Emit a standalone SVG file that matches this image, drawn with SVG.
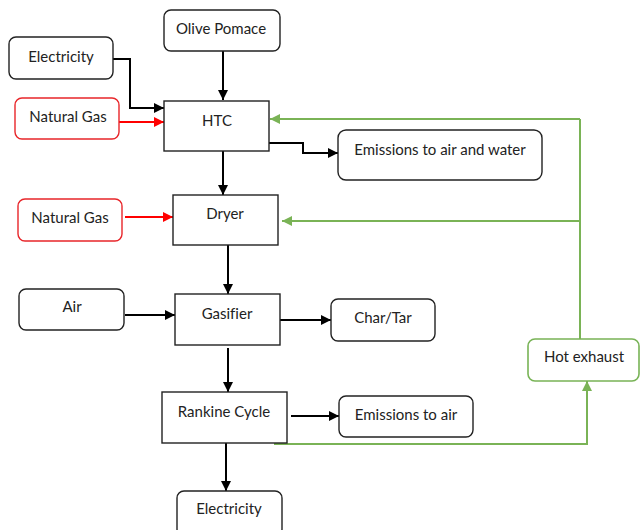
<svg xmlns="http://www.w3.org/2000/svg" width="640" height="530" viewBox="0 0 640 530">
<defs>
<style>
text{font-family:Lato,"Open Sans","Liberation Sans",sans-serif;font-size:15px;fill:#222;text-anchor:middle;font-variant-ligatures:none}
.rb{fill:#fff;stroke:#222;stroke-width:1.4}
.rr{fill:#fff;stroke:#e8262a;stroke-width:1.4}
.rg{fill:#fff;stroke:#78b356;stroke-width:1.6}
.bx{fill:#fff;stroke:#222;stroke-width:1.4}
.k{fill:none;stroke:#000;stroke-width:2;marker-end:url(#ak)}
.r{fill:none;stroke:#ff0000;stroke-width:2;marker-end:url(#ar)}
.g{fill:none;stroke:#7ab356;stroke-width:2}
.ga{fill:none;stroke:#7ab356;stroke-width:2;marker-end:url(#ag)}
</style>
<marker id="ak" viewBox="0 0 10 10" refX="10" refY="5" markerWidth="5" markerHeight="5" orient="auto" markerUnits="strokeWidth"><path d="M0,0L10,5L0,10z" fill="#000"/></marker>
<marker id="ar" viewBox="0 0 10 10" refX="10" refY="5" markerWidth="5" markerHeight="5" orient="auto" markerUnits="strokeWidth"><path d="M0,0L10,5L0,10z" fill="#ff0000"/></marker>
<marker id="ag" viewBox="0 0 10 10" refX="10" refY="5" markerWidth="5" markerHeight="5" orient="auto" markerUnits="strokeWidth"><path d="M0,0L10,5L0,10z" fill="#7ab356"/></marker>
</defs>
<rect width="640" height="530" fill="#fff"/>
<g id="connectors">
<path class="k" d="M223,51V100"/>
<path class="k" d="M113,59H130V108H164"/>
<path class="r" d="M119,122H164"/>
<path class="k" d="M269,143H303V153H338"/>
<path class="k" d="M223,151V195"/>
<path class="r" d="M125,217H173"/>
<path class="k" d="M228,245V294"/>
<path class="k" d="M125,315H175"/>
<path class="k" d="M280,320H331"/>
<path class="k" d="M228,348V392"/>
<path class="k" d="M291,416H339"/>
<path class="k" d="M226,443V491"/>
<path class="ga" d="M274,444H587V381"/>
<path class="g" d="M580,339V119"/>
<path class="ga" d="M580,119H270"/>
<path class="ga" d="M580,221H282"/>
</g>
<g id="olive-pomace"><rect class="rb" x="164" y="10" width="116" height="41" rx="7"/><text x="221" y="34">Olive Pomace</text></g>
<g id="electricity-in"><rect class="rb" x="9" y="37" width="104" height="42" rx="7"/><text x="61" y="62">Electricity</text></g>
<g id="natural-gas-1"><rect class="rr" x="15" y="98" width="104" height="41" rx="7"/><text x="68" y="122">Natural Gas</text></g>
<g id="htc"><rect class="bx" x="164" y="101" width="105" height="50"/><text x="217" y="126">HTC</text></g>
<g id="emissions-air-water"><rect class="rb" x="338" y="130" width="204" height="50" rx="8"/><text x="440" y="155">Emissions to air and water</text></g>
<g id="natural-gas-2"><rect class="rr" x="18" y="199" width="104" height="42" rx="7"/><text x="70" y="223">Natural Gas</text></g>
<g id="dryer"><rect class="bx" x="173" y="195" width="105" height="50"/><text x="225" y="219">Dryer</text></g>
<g id="air"><rect class="rb" x="19" y="289" width="105" height="41" rx="7"/><text x="72" y="312">Air</text></g>
<g id="gasifier"><rect class="bx" x="175" y="294" width="105" height="51"/><text x="227" y="319">Gasifier</text></g>
<g id="char-tar"><rect class="rb" x="331" y="299" width="104" height="42" rx="7"/><text x="383" y="323">Char/Tar</text></g>
<g id="hot-exhaust"><rect class="rg" x="528" y="339" width="111" height="42" rx="7"/><text x="584" y="362">Hot exhaust</text></g>
<g id="rankine-cycle"><rect class="bx" x="162" y="392" width="125" height="51"/><text x="224" y="417">Rankine Cycle</text></g>
<g id="emissions-air"><rect class="rb" x="339" y="396" width="134" height="41" rx="7"/><text x="406" y="420">Emissions to air</text></g>
<g id="electricity-out"><rect class="rb" x="177" y="491" width="105" height="45" rx="7"/><text x="229" y="514">Electricity</text></g>
</svg>
